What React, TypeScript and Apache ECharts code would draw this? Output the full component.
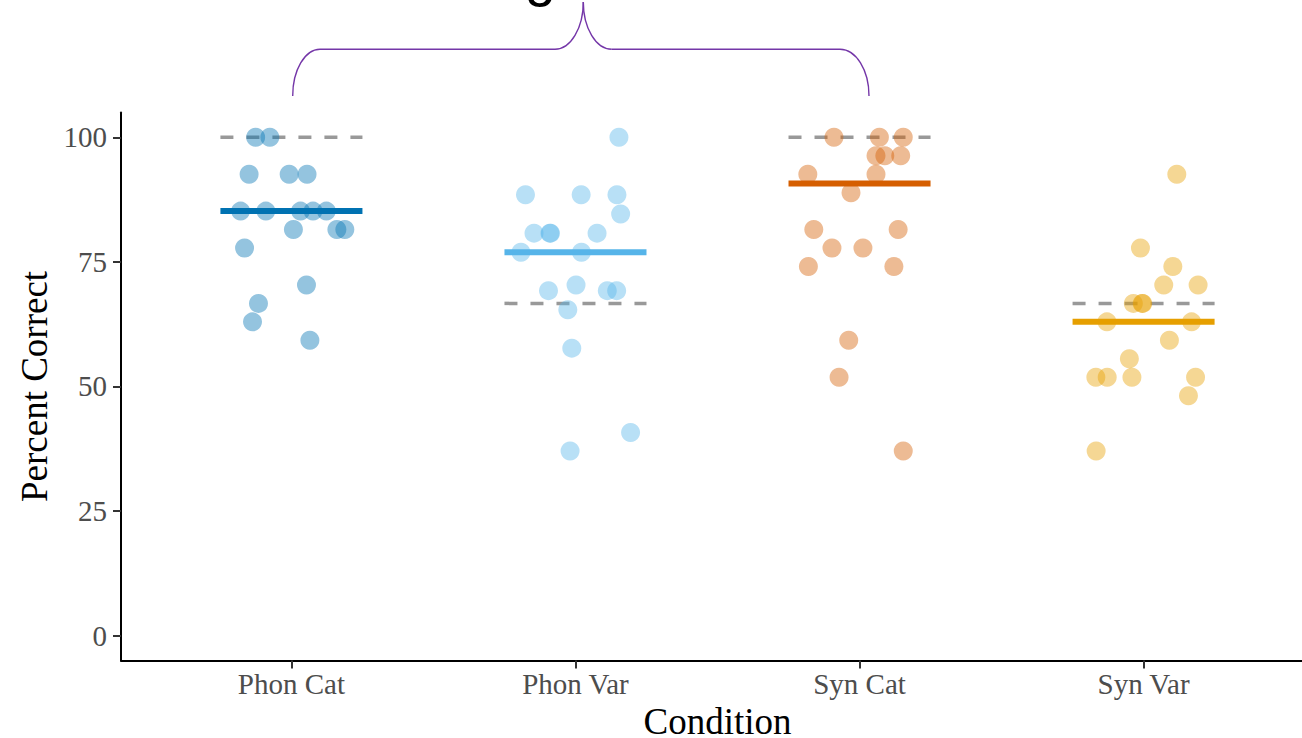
import React, { useEffect, useRef } from 'react';
import * as echarts from 'echarts';

const categories = ['Phon Cat', 'Phon Var', 'Syn Cat', 'Syn Var'];
const colors = ['#0072B2', '#56B4E9', '#D55E00', '#E69F00'];
const yTicks = [0, 25, 50, 75, 100];

const phonCatScores = [100, 100, 92.59, 92.59, 92.59, 85.19, 85.19, 85.19, 85.19, 85.19, 81.48, 81.48, 81.48, 77.78, 70.37, 66.67, 62.96, 59.26];
const phonCatJitter = [-0.126, -0.076, -0.149, -0.008, 0.055, -0.179, -0.09, 0.032, 0.076, 0.123, 0.007, 0.16, 0.188, -0.165, 0.053, -0.116, -0.137, 0.065];

const phonVarScores = [100, 88.46, 88.46, 88.46, 84.62, 80.77, 80.77, 80.77, 80.77, 76.92, 76.92, 69.23, 70.37, 69.23, 69.23, 65.38, 57.69, 40.74, 37.04];
const phonVarJitter = [0.153, -0.176, 0.02, 0.146, 0.159, -0.146, -0.09, -0.088, 0.076, -0.192, 0.021, -0.095, 0.002, 0.112, 0.145, -0.027, -0.013, 0.194, -0.019];

const synCatScores = [100, 100, 100, 96.3, 96.3, 96.3, 92.59, 92.59, 88.89, 81.48, 81.48, 77.78, 77.78, 74.07, 74.07, 59.26, 51.85, 37.04];
const synCatJitter = [-0.09, 0.07, 0.154, 0.058, 0.089, 0.145, -0.182, 0.058, -0.03, -0.161, 0.136, -0.097, 0.012, -0.18, 0.121, -0.038, -0.072, 0.154];

const synVarScores = [92.59, 77.78, 74.07, 70.37, 70.37, 66.67, 66.67, 66.67, 62.96, 62.96, 59.26, 55.56, 51.85, 51.85, 51.85, 51.85, 48.15, 37.04];
const synVarJitter = [0.117, -0.011, 0.103, 0.071, 0.192, -0.036, -0.005, -0.003, -0.129, 0.169, 0.091, -0.05, -0.168, -0.128, -0.041, 0.183, 0.158, -0.167];

const medians = [85.19, 76.92, 90.74, 62.96];
const referenceLines = [100, 66.67, 100, 66.67];

const allScores = [phonCatScores, phonVarScores, synCatScores, synVarScores];
const allJitter = [phonCatJitter, phonVarJitter, synCatJitter, synVarJitter];

const SERIF = '"Liberation Serif", "Times New Roman", serif';
const SANS = '"Liberation Sans", Arial, sans-serif';
const HALF = 0.25;
const BRACE = '#7436a8';

export default function App() {
  const ref = useRef<HTMLDivElement>(null);
  useEffect(() => {
    if (!ref.current) return;
    const chart = echarts.init(ref.current, null, { renderer: 'svg' });
    const series: any[] = [];
    categories.forEach((c, i) => {
      const pos = i + 1;
      series.push({
        type: 'line',
        name: c + ' ref',
        data: [[pos - HALF, referenceLines[i]], [pos + HALF, referenceLines[i]]],
        symbol: 'none',
        lineStyle: { color: '#999999', width: 3.5, type: [13, 13] },
        z: 2,
        silent: true,
      });
    });
    categories.forEach((c, i) => {
      const pos = i + 1;
      series.push({
        type: 'scatter',
        name: c,
        data: allScores[i].map((v, k) => [pos + allJitter[i][k], v]),
        symbol: 'circle',
        symbolSize: 19,
        itemStyle: { color: colors[i], opacity: 0.42 },
        z: 3,
      });
    });
    categories.forEach((c, i) => {
      const pos = i + 1;
      series.push({
        type: 'line',
        name: c + ' median',
        data: [[pos - HALF, medians[i]], [pos + HALF, medians[i]]],
        symbol: 'none',
        lineStyle: { color: colors[i], width: 6 },
        z: 4,
        silent: true,
      });
    });

    const bez = (x1: number, y1: number, cpx1: number, cpy1: number, cpx2: number, cpy2: number, x2: number, y2: number) => ({
      type: 'bezierCurve',
      shape: { x1, y1, cpx1, cpy1, cpx2, cpy2, x2, y2 },
      style: { stroke: BRACE, lineWidth: 1.4, fill: null },
      silent: true,
    });
    const ln = (x1: number, y1: number, x2: number, y2: number) => ({
      type: 'line',
      shape: { x1, y1, x2, y2 },
      style: { stroke: BRACE, lineWidth: 1.4 },
      silent: true,
    });

    chart.setOption({
      animation: false,
      backgroundColor: '#ffffff',
      grid: { left: 121, right: -12, top: 112.4, bottom: 77.5, containLabel: false, outerBoundsMode: 'none' },
      xAxis: {
        type: 'value',
        min: 0.4,
        max: 4.6,
        axisLine: { show: true, onZero: false, lineStyle: { color: '#000000', width: 2 } },
        axisTick: { show: true, customValues: [1, 2, 3, 4], length: 8, lineStyle: { color: '#333333', width: 2 } },
        axisLabel: {
          customValues: [1, 2, 3, 4],
          formatter: (v: number) => categories[Math.round(v) - 1] || '',
          fontSize: 29,
          color: '#4d4d4d',
          fontFamily: SERIF,
          margin: 9,
        },
        splitLine: { show: false },
        name: 'Condition',
        nameLocation: 'middle',
        nameGap: 37,
        nameTextStyle: { fontSize: 37, color: '#000000', fontFamily: SERIF },
      },
      yAxis: {
        type: 'value',
        min: -5,
        max: 105,
        axisLine: { show: true, onZero: false, lineStyle: { color: '#000000', width: 2 } },
        axisTick: { show: true, customValues: yTicks, length: 8, lineStyle: { color: '#333333', width: 2 } },
        axisLabel: {
          customValues: yTicks,
          fontSize: 29,
          color: '#4d4d4d',
          fontFamily: SERIF,
          margin: 14,
        },
        splitLine: { show: false },
        name: 'Percent Correct',
        nameLocation: 'middle',
        nameGap: 66,
        nameRotate: 90,
        nameTextStyle: { fontSize: 37, color: '#000000', fontFamily: SERIF },
      },
      series,
      graphic: [
        {
          type: 'text',
          x: 475,
          y: -25,
          style: { text: 'Significant', fontSize: 56, fontFamily: SANS, fill: '#000000', align: 'left', verticalAlign: 'middle' },
          silent: true,
        },
        bez(292.7, 96, 292.7, 70.2, 304.9, 49.3, 320, 49.3),
        ln(320, 49.3, 555, 49.3),
        bez(555, 49.3, 570.6, 49.3, 583.3, 28.1, 583.3, 2),
        bez(583.3, 2, 583.3, 28.1, 596, 49.3, 611.7, 49.3),
        ln(611.7, 49.3, 840, 49.3),
        bez(840, 49.3, 856, 49.3, 869, 70.2, 869, 96),
      ],
    });
    return () => chart.dispose();
  }, []);
  return <div ref={ref} style={{ position: 'fixed', left: 0, top: 0, width: 1302, height: 738, background: '#fff' }} />;
}
